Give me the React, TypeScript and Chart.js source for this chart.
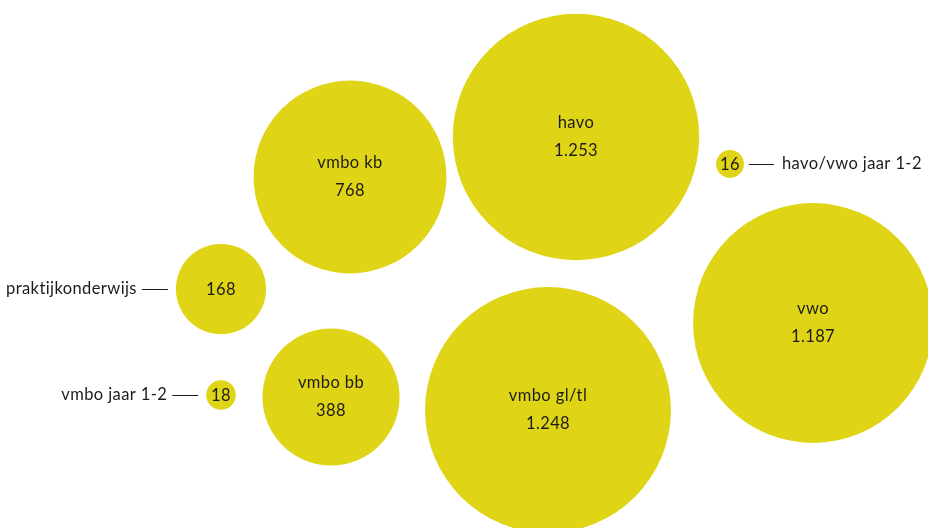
import React, { useEffect, useRef } from 'react';
import { Chart, registerables } from 'chart.js';

Chart.register(...registerables);

// Data
const categories = ['praktijkonderwijs', 'vmbo jaar 1-2', 'vmbo bb', 'vmbo kb', 'vmbo gl/tl', 'havo', 'vwo', 'havo/vwo jaar 1-2'];
const values = [168, 18, 388, 768, 1248, 1253, 1187, 16];
// Packed layout positions (layout units)
const xPos = [221, 221, 331, 350, 548, 576, 813, 730];
const yPos = [289, 395, 397, 177, 410, 137, 323, 164];
const labelSide = ['left', 'left', 'inside', 'inside', 'inside', 'inside', 'inside', 'right'];

const YELLOW = '#dfd415';
const TEXT = '#1c1c1c';
const FONT = 'Lato, "Noto Sans", sans-serif';
const RADIUS_K = 3.48;

function fmt(v: number): string {
  const s = String(Math.round(v));
  return s.replace(/\B(?=(\d{3})+(?!\d))/g, '.');
}

const labelPlugin = {
  id: 'bubbleLabels',
  afterDatasetsDraw(chart: any) {
    const ctx = chart.ctx;
    const meta = chart.getDatasetMeta(0);
    ctx.save();
    ctx.fillStyle = TEXT;
    ctx.strokeStyle = TEXT;
    ctx.font = `16.5px ${FONT}`;
    try { (ctx as any).letterSpacing = '0.4px'; } catch (e) { /* ignore */ }
    ctx.textBaseline = 'middle';
    meta.data.forEach((el: any, i: number) => {
      const x = el.x;
      const y = el.y;
      const r = el.options.radius;
      const side = labelSide[i];
      ctx.textAlign = 'center';
      if (side === 'inside') {
        ctx.fillText(categories[i], x, y - 14);
        ctx.fillText(fmt(values[i]), x, y + 14);
      } else {
        ctx.fillText(fmt(values[i]), x, y + 1);
        ctx.lineWidth = 1;
        ctx.beginPath();
        if (side === 'left') {
          const x1 = x - r - 8;
          const x0 = x1 - 26;
          ctx.moveTo(x0, y + 0.5);
          ctx.lineTo(x1, y + 0.5);
          ctx.stroke();
          ctx.textAlign = 'right';
          ctx.fillText(categories[i], x0 - 5, y);
        } else {
          const x0 = x + r + 5;
          const x1 = x0 + 25;
          ctx.moveTo(x0, y + 0.5);
          ctx.lineTo(x1, y + 0.5);
          ctx.stroke();
          ctx.textAlign = 'left';
          ctx.fillText(categories[i], x1 + 8, y);
        }
      }
    });
    ctx.restore();
  },
};

export default function App() {
  const ref = useRef<HTMLCanvasElement | null>(null);
  useEffect(() => {
    if (!ref.current) return;
    const chart = new Chart(ref.current, {
      type: 'bubble',
      data: {
        datasets: [
          {
            data: values.map((v, i) => ({ x: xPos[i], y: yPos[i], r: RADIUS_K * Math.sqrt(v) })),
            backgroundColor: YELLOW,
            borderWidth: 0,
            clip: false as any,
          },
        ],
      },
      options: {
        responsive: false,
        animation: false,
        events: [],
        layout: { padding: 0, autoPadding: false } as any,
        plugins: { legend: { display: false }, tooltip: { enabled: false } },
        scales: {
          x: { type: 'linear', min: 0, max: 928, display: false },
          y: { type: 'linear', min: 0, max: 528, reverse: true, display: false },
        },
      },
      plugins: [labelPlugin],
    });
    return () => chart.destroy();
  }, []);
  return (
    <div style={{ position: 'absolute', left: 0, top: 0, width: 928, height: 528, background: '#fff' }}>
      <canvas ref={ref} width={928} height={528} />
    </div>
  );
}
